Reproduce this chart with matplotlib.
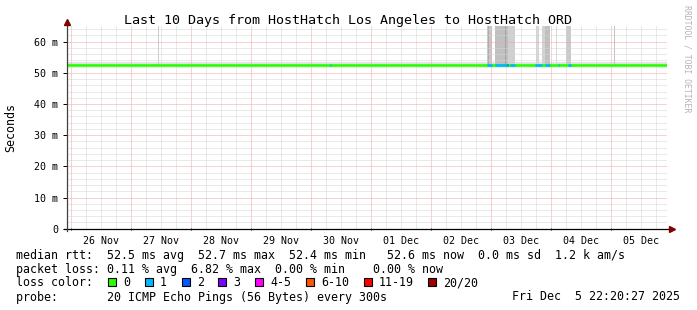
import datetime as dt
import matplotlib
matplotlib.use('Agg')
import matplotlib.pyplot as plt
import matplotlib.dates as mdates
from matplotlib.patches import Rectangle

W, H = 697, 310
MONO = 'DejaVu Sans Mono'

start = dt.datetime(2025, 11, 25, 22, 20, 27)
end = dt.datetime(2025, 12, 5, 22, 20, 27)

day_labels = ['26 Nov', '27 Nov', '28 Nov', '29 Nov', '30 Nov',
              '01 Dec', '02 Dec', '03 Dec', '04 Dec', '05 Dec']
y_ticks_ms = [0, 10, 20, 30, 40, 50, 60]
y_tick_labels = ['0', '10 m', '20 m', '30 m', '40 m', '50 m', '60 m']

median_rtt_ms = 52.6
smoke_band_ms = (52.2, 53.4)

# smoke spikes, hours after start, top in ms
spike_start_h = [36.6, 38.4, 168.0, 168.7, 171.4, 175.2, 176.7, 187.6, 190.0, 191.4, 195.8, 199.8, 219.0]
spike_end_h = [37.0, 38.7, 170.1, 169.1, 176.7, 176.2, 179.4, 188.8, 193.4, 193.4, 196.2, 201.7, 219.4]
spike_top_ms = [66, 61.6, 66, 66, 66, 66, 66, 66, 66, 66, 66, 66, 66]
spike_shade = ['#cccccc', '#cccccc', '#c8c8c8', '#ababab', '#c0c0c0', '#a4a4a4', '#d0d0d0',
               '#d6d6d6', '#d2d2d2', '#c0c0c0', '#dadada', '#cacaca', '#c4c4c4']

# lost pings (of 20) on the median line
loss_start_h = [105.2, 168.0, 171.4, 176.1, 177.4, 187.4, 191.4, 196.4, 200.6]
loss_end_h = [105.6, 170.1, 176.1, 176.5, 179.4, 190.1, 193.4, 196.8, 201.7]
loss_pings = [1, 1, 1, 2, 1, 1, 1, 1, 1]

loss_labels = ['0', '1', '2', '3', '4-5', '6-10', '11-19', '20/20']
loss_colors = ['#26ff00', '#00b8ff', '#0059ff', '#7e00ff', '#ff00ff', '#ff5500', '#ff0000', '#a10000']

line1 = 'median rtt:  52.5 ms avg  52.7 ms max  52.4 ms min   52.6 ms now  0.0 ms sd  1.2 k am/s'
line2 = 'packet loss: 0.11 % avg  6.82 % max  0.00 % min    0.00 % now'
line4 = 'probe:       20 ICMP Echo Pings (56 Bytes) every 300s'
stamp = 'Fri Dec  5 22:20:27 2025'
title = 'Last 10 Days from HostHatch Los Angeles to HostHatch ORD'


def hours(h):
    return start + dt.timedelta(hours=h)


def loss_color(n):
    if n <= 3:
        return loss_colors[n]
    if n <= 5:
        return loss_colors[4]
    if n <= 10:
        return loss_colors[5]
    if n <= 19:
        return loss_colors[6]
    return loss_colors[7]


fig = plt.figure(figsize=(W / 100, H / 100), dpi=100)
fig.patch.set_facecolor('white')
ax = fig.add_axes([66.5 / W, 81.3 / H, 600 / W, 202.6 / H])
ax.set_xlim(start, end)
ax.set_ylim(0, 65)
for s in ax.spines.values():
    s.set_visible(False)

# smoke
ax.fill_between([start, end], smoke_band_ms[0], smoke_band_ms[1], color='#e2e2e2', lw=0, zorder=1)
for a, b, top, c in zip(spike_start_h, spike_end_h, spike_top_ms, spike_shade):
    ax.fill_between([hours(a), hours(b)], median_rtt_ms, top, color=c, lw=0, zorder=1)

# grid
minor_col = '#d4d4d4'
major_col = '#f4a4a4'
t = dt.datetime(2025, 11, 26, 0, 0)
while t < end:
    ax.axvline(t, color=major_col if t.hour == 0 else minor_col, lw=0.72,
               ls=(0, (1, 1)), zorder=2)
    t += dt.timedelta(hours=6)
for v in range(2, 65, 2):
    ax.axhline(v, color=major_col if v % 10 == 0 else minor_col, lw=0.72,
               ls=(0, (1, 1)), zorder=2)

# median line coloured by loss
ax.plot([start, end], [median_rtt_ms, median_rtt_ms], color=loss_colors[0], lw=1.9,
        solid_capstyle='butt', zorder=3)
for a, b, n in zip(loss_start_h, loss_end_h, loss_pings):
    ax.plot([hours(a), hours(b)], [median_rtt_ms, median_rtt_ms], color=loss_color(n),
            lw=1.9, solid_capstyle='butt', zorder=4)

# axes with arrows
ax.plot([-0.005, 1.006], [0, 0], color='black', lw=0.9, transform=ax.transAxes, clip_on=False, zorder=5)
ax.plot([0, 0], [-0.01, 1.01], color='#404040', lw=0.9, transform=ax.transAxes, clip_on=False, zorder=5)
ax.plot([1.009], [0], marker='>', ms=4, color='#7f0000', mec='#7f0000',
        transform=ax.transAxes, clip_on=False, zorder=6)
ax.plot([0], [1.02], marker='^', ms=4, color='#7f0000', mec='#7f0000',
        transform=ax.transAxes, clip_on=False, zorder=6)

# ticks
noons = [dt.datetime(2025, 11, 26, 12) + dt.timedelta(days=i) for i in range(len(day_labels))]
ax.set_xticks(noons)
ax.set_xticklabels(day_labels, fontfamily=MONO, fontsize=7.2)
ax.tick_params(axis='x', length=0, pad=5)
ax.xaxis.set_minor_locator(mdates.HourLocator(byhour=[0]))
ax.tick_params(axis='x', which='minor', length=2, direction='inout', width=0.7)
ax.set_yticks(y_ticks_ms)
ax.set_yticklabels(y_tick_labels, fontfamily=MONO, fontsize=7.2)
ax.tick_params(axis='y', length=3, width=0.7, pad=3, direction='out')


def ftext(x, y, s, **kw):
    kw.setdefault('fontfamily', MONO)
    kw.setdefault('fontsize', 8.4)
    kw.setdefault('va', 'baseline')
    fig.text(x / W, 1 - y / H, s, **kw)


ftext(348, 24, title, fontsize=9.6, ha='center')
ftext(11, 127, 'Seconds', rotation=90, ha='center', va='center')
ftext(687.5, 59, 'RRDTOOL / TOBI OETIKER', rotation=270, ha='center', va='center',
      fontsize=5.9, color='#b4b4b4')

ftext(16, 258.5, line1)
ftext(16, 272.5, line2)
ftext(16, 286.5, 'loss color:')
ftext(16, 300.5, line4)
ftext(680, 300.5, stamp, ha='right')

x = 108.3
for lab, c in zip(loss_labels, loss_colors):
    fig.patches.append(Rectangle((x / W, 1 - 286.3 / H), 8 / W, 8 / H, transform=fig.transFigure,
                                 facecolor=c, edgecolor='black', lw=0.8))
    ftext(x + 15, 286.5, lab)
    x += 29.7 + 7 * len(lab)

fig.savefig('out.png', dpi=100)
